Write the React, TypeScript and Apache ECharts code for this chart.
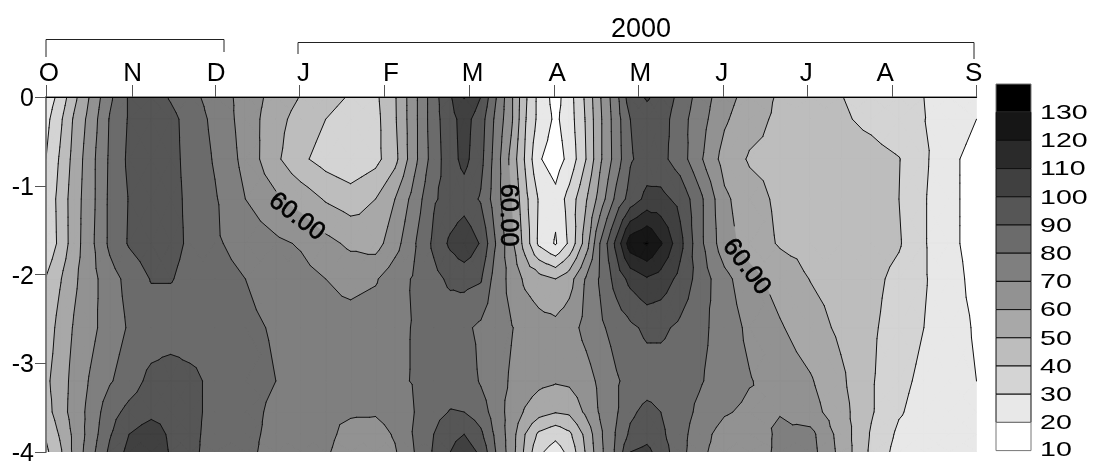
import React, { useEffect, useRef } from "react";
import * as echarts from "echarts";

const FONT = "Liberation Sans";

// x positions of the sampled columns, in days after the start of October
const days = [0,5,10,16,23,30,38,45,52,61,72,83,92,101,110,119,126,133,140,146,151,157,162,168,173,178,184,189,195,200,206,211,217,222,229,236,245,254,265,276,287,298,308,317,326,336];
// depths of the sampled rows
const depths = [0,-0.25,-0.7,-1.15,-1.65,-2.05,-2.6,-3.2,-3.55,-3.8,-4];

const row00 = [24,33,47,61,78,91,96,89,83,76,66,56,49.5,44,39,38,49,67,86,99,110.5,100,82,62,42,27,16,26,42,59,77,96,101,97,87,76,64,56,48.6,44.4,40.3,36.6,33,30,27,24];
const row03 = [27,37.7,51,63.6,80.7,91,97,93,86,77.4,65.8,53.6,45.9,40,35,37,48.7,67,86,96.5,104,94.7,79,62,41,27,18,25.4,41,58,75.6,90,96,95,84,74.5,61.5,53.5,48,45.3,41.4,37.7,33.6,30.3,25,20];
const row07 = [30,41,53,66,81.5,92,97,93,87,79,67,52,42,36,32,37,47,67,85,96,103,93,77,57,39,21,15,23,40,58,75,89,94,93,85,72,56,49,47.5,46,45,43.5,40.4,32,22,17];
const row12 = [33,43,55,66,82,90.5,96,93,88,81,70,62,56,49,45,50,60,74,89,93,95,89,76,60,43,29,23,34,49,64,83,94,103,103,97,83,62,54,48,47,46,45,40,31,22,17];
const row17 = [32,42.5,55,67,82,91,96,93,88.5,81.5,76,72,69,63,58,56,66,79,92,102,108,99,81,63,46,28,19,32,55,80,103,126,131,121,103,83,64,55.7,49,47,46,45,41,31,22,17];
const row21 = [40.5,49,58,66,76,83,90.6,90.6,87,84,80,76,73.5,70,67,69,76,81,87,92,93,91,76.5,67,58,54,50,56,71,81,94,103,109,106,97,86,73,63.5,56,49.7,46,43,37,31,24,17];
const row26 = [44,53.5,60.7,67,75,81,84,84,84,84,82,79,76,74,74,76,78,80.5,83,83.5,82,78,74.5,70.5,67,64,63,66,73,78,84,88,92,92,88,83,75,68,61,54.5,48,41.7,35,30,24,19];
const row32 = [48,55,63,71,79,85,93,96,93,87,83.5,80,78,77,76,77,78.5,80.5,84,85,86,79,74,69,65,62.5,61,62,66,72,79,83,85,85,84,81,75,70.6,65.8,61,52,41,32.6,27.7,24,20];
const row36 = [46,55,64,73,86,93,97,97,93,87,83,78,73,71,71,71,74,80,87,90.5,90,85,76,66,59,54,50.5,52,62,71,79,88,93,90,84,78,71,68,69.5,64,54,41,31,26,24,23];
const row38 = [41,51,62,74,89,100,106,98,93,86,82,78,75,72,67.5,66,71,81,90,97,100,92,79,65,50,38,33,38,53,68,81,92,96,92,84,74,66,64,72,73,56,39,28,25,24,24];
const row40 = [38,48,62,76,92,103,108,99,93,85,82,77,75,71,66,65,69,80,91,100,106,98,81,65,48,32,25,33,51,67,82,100,103,95,84,72,66,65,72,74,57,38,26,25,25,25];
const grid = [row00,row03,row07,row12,row17,row21,row26,row32,row36,row38,row40];

const levels = [10,20,30,40,50,60,70,80,90,100,110,120,130];
const greys = ["#ffffff","#e8e8e8","#d4d4d4","#bdbdbd","#a8a8a8","#929292","#7f7f7f","#6b6b6b","#565656","#404040","#2a2a2a","#161616","#000000"];

const monthLabels = ["O","N","D","J","F","M","A","M","J","J","A","S"];
const monthTickDays = [0,31,61,91.4,122,152.8,183.5,214,244.6,275,305.6,336];
const monthLabelDays = [1,31.3,61.4,93,124.6,154,184.6,214.6,244,274.5,303,335];

// contour labels: day, depth, rotation in degrees
const contourLabels = [
  [91,-1.33,-37],
  [167.6,-1.33,-90],
  [253.5,-1.9,-53],
];

type V = [number, number, number];

function triangles(): V[][] {
  const out: V[][] = [];
  for (let r = 0; r < depths.length - 1; r++) {
    for (let c = 0; c < days.length - 1; c++) {
      const a: V = [days[c], depths[r], grid[r][c]];
      const b: V = [days[c + 1], depths[r], grid[r][c + 1]];
      const d: V = [days[c + 1], depths[r + 1], grid[r + 1][c + 1]];
      const e: V = [days[c], depths[r + 1], grid[r + 1][c]];
      const m: V = [(a[0] + b[0]) / 2, (a[1] + e[1]) / 2, (a[2] + b[2] + d[2] + e[2]) / 4];
      out.push([m, a, b], [m, b, d], [m, d, e], [m, e, a]);
    }
  }
  return out;
}

function cross(p: V, q: V, l: number): V {
  const t = (l - p[2]) / (q[2] - p[2]);
  return [p[0] + (q[0] - p[0]) * t, p[1] + (q[1] - p[1]) * t, l];
}

function clipAbove(tri: V[], l: number): V[] {
  const res: V[] = [];
  for (let i = 0; i < tri.length; i++) {
    const p = tri[i];
    const q = tri[(i + 1) % tri.length];
    const pi = p[2] >= l;
    const qi = q[2] >= l;
    if (pi) res.push(p);
    if (pi !== qi) res.push(cross(p, q, l));
  }
  return res;
}

function segment(tri: V[], l: number): [V, V] | null {
  const pts: V[] = [];
  for (let i = 0; i < 3; i++) {
    const p = tri[i];
    const q = tri[(i + 1) % 3];
    if (p[2] >= l !== q[2] >= l) pts.push(cross(p, q, l));
  }
  return pts.length === 2 ? [pts[0], pts[1]] : null;
}

const TRIS = triangles();
const f2 = (n: number) => n.toFixed(2);

export default function App() {
  const ref = useRef<HTMLDivElement>(null);
  useEffect(() => {
    const chart = echarts.init(ref.current!, null, { renderer: "svg" });
    const n = levels.length;

    const fillItem = (params: any, api: any) => {
      const i = params.dataIndex;
      const l = levels[i];
      let d = "";
      for (const t of TRIS) {
        const poly = clipAbove(t, l);
        if (poly.length < 3) continue;
        poly.forEach((p, k) => {
          const c = api.coord([p[0], p[1]]);
          d += (k ? "L" : "M") + f2(c[0]) + " " + f2(c[1]);
        });
        d += "Z";
      }
      if (!d) return null;
      return { type: "path", shape: { pathData: d }, style: { fill: greys[i], stroke: greys[i], lineWidth: 0.6 } };
    };

    const lineItem = (params: any, api: any) => {
      const l = levels[params.dataIndex];
      const centres = contourLabels.map((c) => api.coord([c[0], c[1]]));
      let d = "";
      for (const t of TRIS) {
        const s = segment(t, l);
        if (!s) continue;
        const a = api.coord([s[0][0], s[0][1]]);
        const b = api.coord([s[1][0], s[1][1]]);
        if (l === 60) {
          const mx = (a[0] + b[0]) / 2;
          const my = (a[1] + b[1]) / 2;
          if (centres.some((c: number[]) => Math.hypot(c[0] - mx, c[1] - my) < 34)) continue;
        }
        d += "M" + f2(a[0]) + " " + f2(a[1]) + "L" + f2(b[0]) + " " + f2(b[1]);
      }
      if (!d) return null;
      return { type: "path", shape: { pathData: d }, style: { fill: "none", stroke: "#111", lineWidth: 1, lineCap: "round" } };
    };

    const labelItem = (params: any, api: any) => {
      const c = contourLabels[params.dataIndex];
      const p = api.coord([c[0], c[1]]);
      return {
        type: "text",
        x: p[0],
        y: p[1],
        rotation: (c[2] * Math.PI) / 180,
        style: { text: "60.00", fontSize: 25, fontFamily: FONT, fill: "#000", stroke: "#000", lineWidth: 0.7, align: "center", verticalAlign: "middle" },
      };
    };

    const barX = 996, barW = 35, barTop = 84, bandH = 28.2;
    const legend: any[] = [];
    for (let i = 0; i < n; i++) {
      const idx = n - 1 - i;
      legend.push({
        type: "rect",
        shape: { x: barX, y: barTop + i * bandH, width: barW, height: bandH },
        style: { fill: greys[idx], stroke: i === 0 || i === n - 1 ? "#777" : "#111", lineWidth: 1 },
      });
    }
    levels.forEach((l, i) => {
      legend.push({
        type: "text",
        x: 1040,
        y: barTop + (n - i) * bandH - (i === 0 ? 1 : 0),
        scaleX: 1.43,
        style: { text: String(l), fontSize: 20, lineHeight: 16, fontFamily: FONT, fill: "#000", align: "left", verticalAlign: "middle" },
      });
    });
    const bracket = (pts: number[][]) => ({
      type: "polyline",
      shape: { points: pts },
      style: { fill: "none", stroke: "#222", lineWidth: 1 },
    });

    chart.setOption({
      animation: false,
      grid: { left: 46, top: 97, width: 930.5, height: 355, containLabel: false, outerBoundsMode: "none" },
      xAxis: [
        {
          type: "value", position: "top", min: 0, max: 336, z: 5,
          splitLine: { show: false },
          axisLine: { show: true, lineStyle: { color: "#777", width: 1.5 } },
          axisTick: { show: true, customValues: monthTickDays, length: 12, lineStyle: { color: "#555", width: 1 } },
          axisLabel: {
            show: true, customValues: monthLabelDays, margin: 12, hideOverlap: false,
            fontSize: 26, fontFamily: FONT, color: "#000",
            formatter: (v: number) => monthLabels[monthLabelDays.indexOf(v)] ?? "",
          },
        },
        {
          type: "value", position: "bottom", min: 0, max: 336, z: 5,
          splitLine: { show: false },
          axisLine: { show: true, lineStyle: { color: "#000", width: 1 } },
          axisTick: { show: false }, axisLabel: { show: false },
        },
      ],
      yAxis: [
        {
          type: "value", position: "left", min: -4, max: 0, interval: 1, z: 5,
          splitLine: { show: false },
          axisLine: { show: true, lineStyle: { color: "#777", width: 1.5 } },
          axisTick: { show: true, length: 11, lineStyle: { color: "#555", width: 1 } },
          axisLabel: { show: true, margin: 12, fontSize: 25, lineHeight: 16, fontFamily: FONT, color: "#000" },
        },
        {
          type: "value", position: "right", min: -4, max: 0, interval: 1, z: 5,
          splitLine: { show: false },
          axisLine: { show: true, lineStyle: { color: "#777", width: 1.5 } },
          axisTick: { show: false }, axisLabel: { show: false },
        },
      ],
      graphic: [
        bracket([[46, 57], [46, 39.5], [224, 39.5], [224, 52]]),
        bracket([[298, 54], [298, 42.5], [974, 42.5], [974, 59]]),
        {
          type: "text", x: 641, y: 28,
          style: { text: "2000", fontSize: 27, fontFamily: FONT, fill: "#000", align: "center", verticalAlign: "middle" },
        },
        ...legend,
      ],
      series: [
        { type: "custom", silent: true, z: 2, renderItem: fillItem, data: levels.map((l) => [0, 0, l]), clip: true },
        { type: "custom", silent: true, z: 3, renderItem: lineItem, data: levels.map((l) => [0, 0, l]), clip: true },
        { type: "custom", silent: true, z: 4, renderItem: labelItem, data: contourLabels.map((c) => [c[0], c[1]]) },
      ],
    });
    return () => chart.dispose();
  }, []);
  return <div ref={ref} style={{ position: "fixed", left: 0, top: 0, width: 1093, height: 461 }} />;
}
